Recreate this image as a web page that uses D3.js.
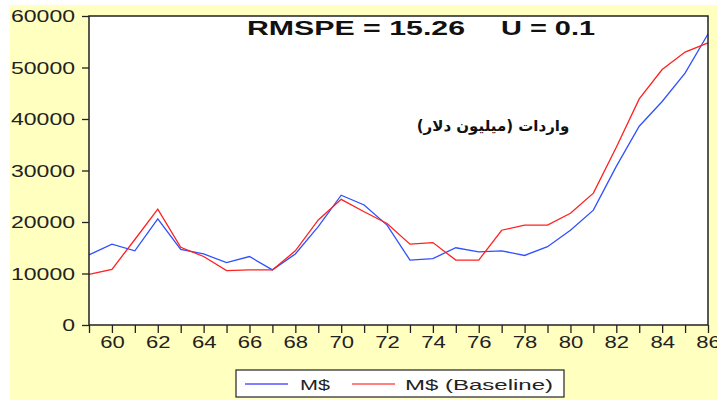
<!DOCTYPE html>
<html><head><meta charset="utf-8">
<script src="https://cdn.jsdelivr.net/npm/d3@7"></script>
<style>body{margin:0;background:#fff}svg{display:block}</style>
</head><body>
<svg id="c" width="717" height="400"></svg>
<script>
const years = [59,60,61,62,63,64,65,66,67,68,69,70,71,72,73,74,75,76,77,78,79,80,81,82,83,84,85,86];
const actual = [13600,15700,14400,20600,14700,13800,12100,13300,10700,13800,19100,25200,23300,19400,12600,12900,15000,14200,14400,13500,15200,18400,22300,30800,38600,43400,48900,56500];
const baseline = [9850,10800,16600,22500,15100,13300,10550,10700,10700,14400,20400,24400,22000,19700,15700,16000,12600,12600,18400,19400,19400,21700,25600,34500,43900,49600,53000,54800];
const yTicks = [0,10000,20000,30000,40000,50000,60000];
const xLabelYears = [60,62,64,66,68,70,72,74,76,78,80,82,84,86];
const seriesNames = ["M$","M$ (Baseline)"];
const titleLeft = "RMSPE = 15.26", titleRight = "U = 0.1";
const annotation = "واردات (میلیون دلار)";

const svg = d3.select("#c");
const L=89,R=708,T=16,B=325;
svg.append("rect").attr("x",10).attr("y",5).attr("width",707).attr("height",395).attr("fill","#ffffc0");
svg.append("rect").attr("x",L).attr("y",T).attr("width",R-L).attr("height",B-T).attr("fill","#fff");

const x = d3.scaleLinear().domain([59,86]).range([L,R]);
const y = d3.scaleLinear().domain([0,60000]).range([B,T]);
const font = "'Liberation Sans', Arial, sans-serif";

const ya = svg.append("g").attr("transform",`translate(${L},0)`)
  .call(d3.axisLeft(y).tickValues(yTicks).tickSize(7).tickPadding(7).tickFormat(d3.format("d")));
ya.select(".domain").remove();
ya.selectAll("line").attr("stroke","#222").attr("stroke-width",1.3);
ya.selectAll("text").attr("font-family",font).attr("font-size",16).attr("fill","#222")
  .attr("dy","0.36em")
  .attr("textLength",d=>String(d).length*12.8).attr("lengthAdjust","spacingAndGlyphs");

const xa = svg.append("g").attr("transform",`translate(0,${B})`)
  .call(d3.axisBottom(x).tickValues(years).tickSize(8).tickPadding(4)
    .tickFormat(d=>xLabelYears.includes(d)?String(d):""));
xa.select(".domain").remove();
xa.selectAll("line").attr("stroke","#222").attr("stroke-width",1.3);
xa.selectAll("text").attr("font-family",font).attr("font-size",16).attr("fill","#222")
  .filter(d=>xLabelYears.includes(d))
  .attr("textLength",24.5).attr("lengthAdjust","spacingAndGlyphs");

const line = d3.line().x((d,i)=>x(years[i])).y(d=>y(d));
svg.append("path").datum(actual).attr("d",line).attr("fill","none").attr("stroke","#3050ff").attr("stroke-width",1.3);
svg.append("path").datum(baseline).attr("d",line).attr("fill","none").attr("stroke","#ff2020").attr("stroke-width",1.3);

svg.append("rect").attr("x",L).attr("y",T).attr("width",R-L).attr("height",B-T)
  .attr("fill","none").attr("stroke","#222").attr("stroke-width",1.5);

svg.append("text").attr("x",247).attr("y",35).attr("font-family",font).attr("font-weight","bold")
  .attr("font-size",20).attr("fill","#111").attr("textLength",218).attr("lengthAdjust","spacingAndGlyphs").text(titleLeft);
svg.append("text").attr("x",501).attr("y",35).attr("font-family",font).attr("font-weight","bold")
  .attr("font-size",20).attr("fill","#111").attr("textLength",94).attr("lengthAdjust","spacingAndGlyphs").text(titleRight);

svg.append("text").attr("x",493).attr("y",131).attr("text-anchor","middle").attr("direction","rtl")
  .attr("font-family","'DejaVu Sans', sans-serif").attr("font-weight","bold").attr("font-size",15)
  .attr("fill","#111").text(annotation);

const lg = svg.append("g");
lg.append("rect").attr("x",236).attr("y",370).attr("width",328).attr("height",27)
  .attr("fill","#fff").attr("stroke","#222").attr("stroke-width",1.2);
const legendItems = [{name:seriesNames[0],color:"#0000ff",x0:245,tx:300,tl:30},{name:seriesNames[1],color:"#ff0000",x0:352,tx:405,tl:148}];
legendItems.forEach(it=>{
  lg.append("line").attr("x1",it.x0).attr("x2",it.x0+43).attr("y1",384).attr("y2",384).attr("stroke",it.color).attr("stroke-width",1.2);
  lg.append("text").attr("x",it.tx).attr("y",389.5).attr("font-family",font).attr("font-size",15).attr("fill","#222")
    .attr("textLength",it.tl).attr("lengthAdjust","spacingAndGlyphs").text(it.name);
});
</script>
</body></html>
